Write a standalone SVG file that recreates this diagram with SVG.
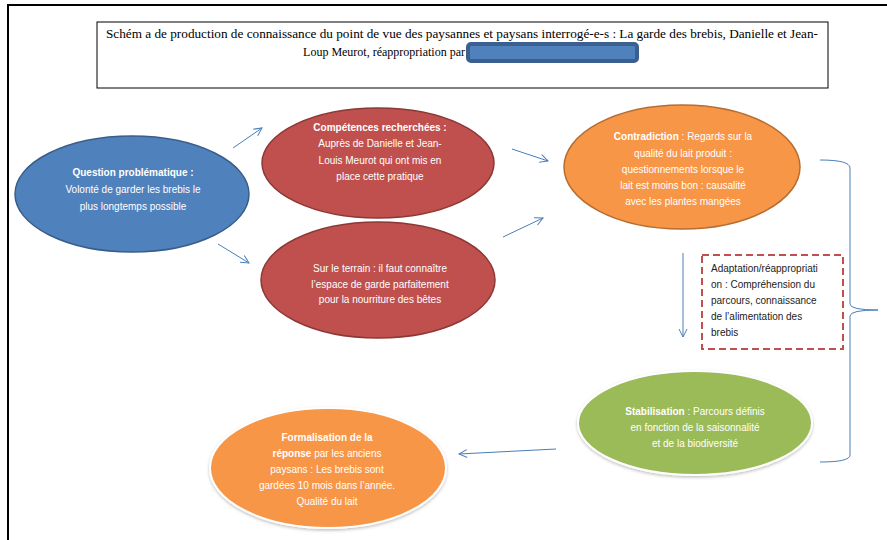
<svg xmlns="http://www.w3.org/2000/svg" width="887" height="540" viewBox="0 0 887 540">
<style>
.t{font-family:"Liberation Sans",Arial,sans-serif;font-size:10px;fill:#fff;text-anchor:middle}
.b{font-weight:bold}
.d{font-family:"Liberation Sans",Arial,sans-serif;font-size:10px;fill:#222}
.ttl{font-family:"Liberation Serif","Times New Roman",serif;font-size:12px;fill:#000}
.ar{stroke:#4a7ebb;stroke-width:1;fill:none}
</style>
<defs>
<marker id="ah" viewBox="0 0 10 10" refX="9" refY="5" markerWidth="10" markerHeight="10" markerUnits="userSpaceOnUse" orient="auto">
<path d="M1,1 L9,5 L1,9" fill="none" stroke="#4a7ebb" stroke-width="1"/>
</marker>
<filter id="sh" x="-10%" y="-10%" width="120%" height="125%">
<feDropShadow dx="0" dy="1.5" stdDeviation="1.5" flood-color="#000" flood-opacity="0.25"/>
</filter>
</defs>
<rect width="887" height="540" fill="#fff"/>
<path d="M8,540 V5 H887" fill="none" stroke="#000" stroke-width="2"/>

<g id="title">
<rect x="97" y="22" width="731" height="66" fill="#fff" stroke="#000" stroke-width="1"/>
<text class="ttl" x="462" y="38" text-anchor="middle" textLength="712" lengthAdjust="spacingAndGlyphs">Schém a de production de connaissance du point de vue des paysannes et paysans interrogé-e-s : La garde des brebis,  Danielle et Jean-</text>
<text class="ttl" x="465" y="56" text-anchor="end">Loup Meurot, réappropriation par</text>
<rect x="468" y="44" width="169" height="17" rx="3" fill="#4f81bd" stroke="#3b5f8f" stroke-width="4"/>
</g>

<g id="connectors">
<line class="ar" x1="233" y1="148" x2="262" y2="128" marker-end="url(#ah)"/>
<line class="ar" x1="218" y1="244" x2="249" y2="263" marker-end="url(#ah)"/>
<line class="ar" x1="512" y1="149" x2="548" y2="161" marker-end="url(#ah)"/>
<line class="ar" x1="503" y1="237" x2="543" y2="218" marker-end="url(#ah)"/>
<line class="ar" x1="683" y1="253" x2="683" y2="337" marker-end="url(#ah)"/>
<line class="ar" x1="556" y1="449" x2="459" y2="454" marker-end="url(#ah)"/>
<path class="ar" d="M820,160 Q850,160 850,168 V304 Q850,310 878,310 Q850,310 850,316 V455 Q850,462 820,462"/>
</g>

<g id="question">
<ellipse cx="132" cy="194" rx="117" ry="58" fill="#4f81bd" stroke="#385d8a" stroke-width="1.5"/>
<text class="t b" x="133" y="176">Question problématique :</text>
<text class="t" x="133" y="193">Volonté de garder les brebis le</text>
<text class="t" x="133" y="210">plus longtemps possible</text>
</g>

<g id="competences">
<ellipse cx="378" cy="163" rx="116" ry="55" fill="#c0504d" stroke="#8c3836" stroke-width="1.5"/>
<text class="t b" x="380" y="131">Compétences recherchées :</text>
<text class="t" x="380" y="147">Auprès de Danielle et Jean-</text>
<text class="t" x="380" y="164">Louis Meurot qui ont mis en</text>
<text class="t" x="380" y="180">place cette pratique</text>
</g>

<g id="terrain">
<ellipse cx="378" cy="280" rx="117" ry="58" fill="#c0504d" stroke="#8c3836" stroke-width="1.5"/>
<text class="t" x="380" y="272">Sur le terrain : il faut connaître</text>
<text class="t" x="380" y="288">l’espace de garde parfaitement</text>
<text class="t" x="380" y="303">pour la nourriture des bêtes</text>
</g>

<g id="contradiction">
<ellipse cx="682" cy="167" rx="118" ry="62" fill="#f79646" stroke="#b66d31" stroke-width="1.5"/>
<text class="t" x="683" y="140"><tspan class="b">Contradiction</tspan> : Regards sur la</text>
<text class="t" x="683" y="157">qualité du lait produit :</text>
<text class="t" x="683" y="173">questionnements lorsque le</text>
<text class="t" x="683" y="189">lait est moins bon : causalité</text>
<text class="t" x="683" y="205">avec les plantes mangées</text>
</g>

<g id="adaptation">
<rect x="702" y="255" width="141" height="94" fill="#fff" stroke="#c0504d" stroke-width="2" stroke-dasharray="7,4"/>
<text class="d" x="711" y="272">Adaptation/réappropriati</text>
<text class="d" x="711" y="288">on : Compréhension du</text>
<text class="d" x="711" y="304">parcours, connaissance</text>
<text class="d" x="711" y="320">de l’alimentation des</text>
<text class="d" x="711" y="336">brebis</text>
</g>

<g id="stabilisation">
<ellipse cx="695" cy="423" rx="117" ry="52" fill="#9bbb59" stroke="#fff" stroke-width="2" filter="url(#sh)"/>
<text class="t" x="695" y="415"><tspan class="b">Stabilisation</tspan> : Parcours définis</text>
<text class="t" x="695" y="431">en fonction de la saisonnalité</text>
<text class="t" x="695" y="447">et de la biodiversité</text>
</g>

<g id="formalisation">
<ellipse cx="328" cy="468" rx="118" ry="60" fill="#f79646" stroke="#fff" stroke-width="2" filter="url(#sh)"/>
<text class="t b" x="327" y="441">Formalisation de la</text>
<text class="t" x="327" y="457"><tspan class="b">réponse</tspan> par les anciens</text>
<text class="t" x="327" y="473">paysans : Les brebis sont</text>
<text class="t" x="327" y="489">gardées 10 mois dans l’année.</text>
<text class="t" x="327" y="505">Qualité du lait</text>
</g>
</svg>
